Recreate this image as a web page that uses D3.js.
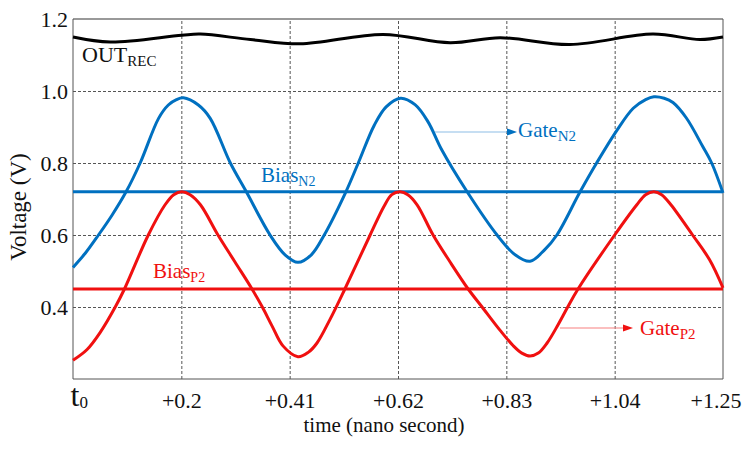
<!DOCTYPE html>
<html>
<head>
<meta charset="utf-8">
<script src="https://cdn.jsdelivr.net/npm/d3@7/dist/d3.min.js"></script>
<style>
  body { margin: 0; background: #fff; }
  svg { display: block; font-family: 'Liberation Serif', 'Times New Roman', serif; }
</style>
</head>
<body>
<div id="chart"></div>
<script>
// x ticks (ns after t0) and their labels
const xTickValues = [0, 0.2, 0.41, 0.62, 0.83, 1.04, 1.25];
const xTickLabels = ['t', '+0.2', '+0.41', '+0.62', '+0.83', '+1.04', '+1.25'];
const yTickValues = [0.4, 0.6, 0.8, 1.0, 1.2];

const biasN2 = 0.72;
const biasP2 = 0.45;

// [time (ns), voltage (V)]
const outRec = [
  [0, 1.150], [0.069, 1.136], [0.201, 1.155], [0.237, 1.158], [0.334, 1.143],
  [0.430, 1.131], [0.591, 1.157], [0.721, 1.134], [0.818, 1.148], [0.953, 1.129],
  [1.114, 1.158], [1.205, 1.143], [1.25, 1.150]
];

const gateN2 = [
  [0, 0.51], [0.023, 0.55], [0.047, 0.60], [0.072, 0.655], [0.098, 0.72],
  [0.124, 0.80], [0.158, 0.924], [0.176, 0.961], [0.191, 0.976], [0.204, 0.981],
  [0.233, 0.961], [0.256, 0.924], [0.295, 0.80], [0.326, 0.72], [0.372, 0.60],
  [0.401, 0.545], [0.426, 0.524], [0.452, 0.545], [0.477, 0.60], [0.519, 0.72],
  [0.543, 0.80], [0.574, 0.905], [0.597, 0.956], [0.625, 0.98], [0.653, 0.962],
  [0.678, 0.915], [0.705, 0.836], [0.754, 0.72], [0.812, 0.60], [0.847, 0.545],
  [0.876, 0.527], [0.905, 0.56], [0.928, 0.60], [0.973, 0.72], [1.005, 0.80],
  [1.044, 0.89], [1.076, 0.952], [1.100, 0.976], [1.116, 0.984], [1.136, 0.98],
  [1.153, 0.968], [1.179, 0.925], [1.211, 0.845], [1.228, 0.80], [1.25, 0.717]
];

const gateP2 = [
  [0, 0.252], [0.026, 0.282], [0.050, 0.329], [0.078, 0.40], [0.095, 0.45],
  [0.139, 0.60], [0.170, 0.684], [0.186, 0.712], [0.201, 0.72], [0.217, 0.712],
  [0.237, 0.684], [0.271, 0.60], [0.304, 0.525], [0.337, 0.45], [0.357, 0.40],
  [0.376, 0.347], [0.397, 0.292], [0.426, 0.262], [0.446, 0.274], [0.463, 0.30],
  [0.488, 0.365], [0.517, 0.45], [0.566, 0.60], [0.593, 0.68], [0.608, 0.712],
  [0.624, 0.72], [0.639, 0.712], [0.657, 0.684], [0.688, 0.60], [0.721, 0.525],
  [0.756, 0.45], [0.783, 0.40], [0.818, 0.335], [0.843, 0.293], [0.860, 0.272],
  [0.876, 0.264], [0.892, 0.272], [0.909, 0.30], [0.930, 0.35], [0.949, 0.40],
  [0.969, 0.45], [1.040, 0.60], [1.083, 0.684], [1.100, 0.712], [1.116, 0.72],
  [1.131, 0.712], [1.149, 0.684], [1.191, 0.60], [1.224, 0.531], [1.25, 0.453]
];

const blue = '#0070c0';
const red = '#f01010';
const serif = "'Liberation Serif', 'Times New Roman', serif";

const margin = { top: 19, right: 28, bottom: 70, left: 73 },
  width = 751 - margin.left - margin.right,
  height = 449 - margin.top - margin.bottom;

const svg = d3
  .select('#chart')
  .append('svg')
  .attr('width', 751)
  .attr('height', 449);

const g = svg.append('g').attr('transform', `translate(${margin.left},${margin.top})`);

// ticks are evenly spaced on the page even though the steps differ
const x = d3
  .scaleLinear()
  .domain(xTickValues)
  .range(xTickValues.map((d, i) => (i * width) / (xTickValues.length - 1)));

const y = d3.scaleLinear().domain([0.2, 1.2]).range([height, 0]);

// X axis + vertical grid
const gx = g
  .append('g')
  .attr('transform', `translate(0,${height})`)
  .call(
    d3.axisBottom(x)
      .tickValues(xTickValues)
      .tickSize(-height)
      .tickFormat((d, i) => xTickLabels[i])
  )
  .attr('font-family', serif);
gx.select('.domain').remove();
gx.selectAll('.tick line')
  .attr('stroke', '#555')
  .attr('stroke-dasharray', '3,2')
  .filter((d, i) => i === 0 || i === xTickValues.length - 1)
  .remove();
gx.selectAll('.tick text')
  .attr('y', 29)
  .attr('dy', null)
  .attr('fill', '#111')
  .style('font-family', serif)
  .style('font-size', '22px');
gx.selectAll('.tick text')
  .filter((d, i) => i === xTickValues.length - 1)
  .attr('text-anchor', 'end')
  .attr('x', 18);
// t0 with subscript
const t0 = gx.selectAll('.tick text').filter((d, i) => i === 0);
t0.text(null).attr('text-anchor', 'start').attr('x', -3).attr('y', 27);
t0.append('tspan').style('font-size', '32px').text('t');
t0.append('tspan').style('font-size', '17px').attr('dy', 2).text('0');

// Y axis + horizontal grid
const gy = g
  .append('g')
  .call(
    d3.axisLeft(y)
      .tickValues(yTickValues)
      .tickSize(-width)
      .tickFormat(d3.format('.1f'))
  )
  .attr('font-family', serif);
gy.select('.domain').remove();
gy.selectAll('.tick line')
  .attr('stroke', '#555')
  .attr('stroke-dasharray', '3,2')
  .filter((d) => d === 1.2)
  .remove();
gy.selectAll('.tick text')
  .attr('x', -5)
  .attr('fill', '#111')
  .style('font-family', serif)
  .style('font-size', '22px');

// frame
g.append('line').attr('x1', 0).attr('x2', width).attr('y1', 0).attr('y2', 0)
  .attr('stroke', '#999').attr('stroke-width', 2);
g.append('line').attr('x1', 0).attr('x2', 0).attr('y1', 0).attr('y2', height)
  .attr('stroke', '#555');
g.append('line').attr('x1', width).attr('x2', width).attr('y1', 0).attr('y2', height)
  .attr('stroke', '#555');
g.append('line').attr('x1', 0).attr('x2', width).attr('y1', height).attr('y2', height)
  .attr('stroke', '#555');

// bias levels
[[biasN2, blue], [biasP2, red]].forEach(([v, c]) => {
  g.append('line')
    .attr('x1', x(0)).attr('x2', x(1.25))
    .attr('y1', y(v)).attr('y2', y(v))
    .attr('stroke', c)
    .attr('stroke-width', 3);
});

const line = d3
  .line()
  .x((d) => x(d[0]))
  .y((d) => y(d[1]))
  .curve(d3.curveCatmullRom.alpha(0.5));

g.append('path').datum(gateN2).attr('d', line)
  .attr('fill', 'none').attr('stroke', blue).attr('stroke-width', 3);
g.append('path').datum(gateP2).attr('d', line)
  .attr('fill', 'none').attr('stroke', red).attr('stroke-width', 3);
g.append('path').datum(outRec).attr('d', line)
  .attr('fill', 'none').attr('stroke', '#000').attr('stroke-width', 3);

// labels
function addLabel(px, py, main, sub, color, size, subSize) {
  const t = g.append('text').attr('x', px).attr('y', py).attr('fill', color);
  t.append('tspan').style('font-size', size + 'px').text(main);
  t.append('tspan').style('font-size', subSize + 'px').attr('dy', 4).text(sub);
}

function addArrow(x1, x2, py, color, head) {
  g.append('line')
    .attr('x1', x1).attr('x2', x2 - 9)
    .attr('y1', py).attr('y2', py)
    .attr('stroke', color).attr('stroke-width', 1.2);
  g.append('path')
    .attr('d', `M${x2},${py}L${x2 - 10},${py - 3.5}L${x2 - 10},${py + 3.5}Z`)
    .attr('fill', head);
}

addLabel(9, 43, 'OUT', 'REC', '#111', 22, 15);
addLabel(188, 163, 'Bias', 'N2', blue, 21, 14);
addLabel(80, 259, 'Bias', 'P2', red, 21, 14);
addArrow(362, 444, 113, '#8dbde6', blue);
addLabel(445, 118, 'Gate', 'N2', blue, 21, 15);
addArrow(487, 560, 309, '#f78080', red);
addLabel(567, 316, 'Gate', 'P2', red, 21, 15);

// axis titles
svg.append('text')
  .attr('transform', 'translate(26,207) rotate(-90)')
  .attr('text-anchor', 'middle')
  .attr('fill', '#111')
  .style('font-size', '23px')
  .text('Voltage (V)');

svg.append('text')
  .attr('x', 384)
  .attr('y', 432)
  .attr('text-anchor', 'middle')
  .attr('fill', '#111')
  .style('font-size', '21px')
  .text('time (nano second)');
</script>
</body>
</html>
